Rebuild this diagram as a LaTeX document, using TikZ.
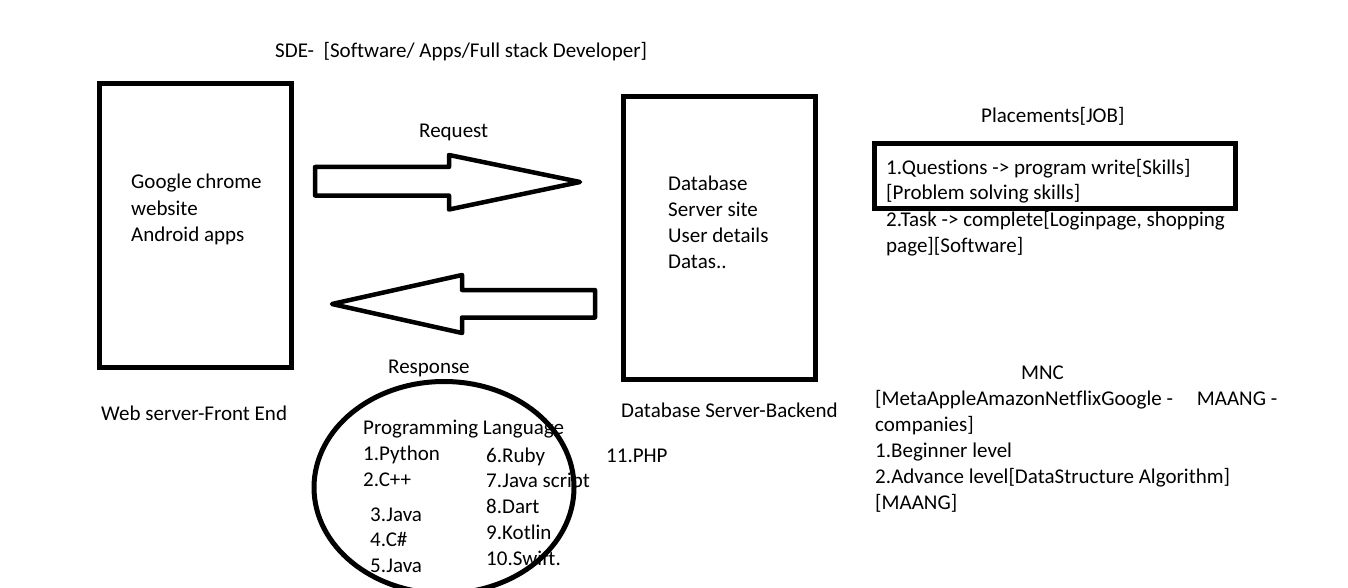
\documentclass[tikz,border=0pt]{standalone}
\usepackage{fontspec}
\setmainfont[Ligatures=NoCommon]{Carlito}
\begin{document}
\begin{tikzpicture}[x=1pt,y=-1pt,
  txt/.style={inner sep=0pt,anchor=base west,font=\fontsize{21}{26}\selectfont},
  box/.style={draw,line width=5pt,line join=miter},
  blockarrow/.style={draw,line width=4.5pt,line join=round,fill=white}]
\clip (0,0) rectangle (1348,588);
\fill[white] (0,0) rectangle (1348,588);

% boxes
\draw[box] (99,84) rectangle (291.5,367);
\draw[box] (623.5,97) rectangle (815.5,379.5);
\draw[box] (874,144) rectangle (1235,208.5);
\draw[line width=5pt] (444,487.5) ellipse [x radius=130, y radius=106];

% block arrows
\draw[blockarrow] (315,167) -- (449,167) -- (449,155) -- (580,182) -- (449,209.5) -- (449,195.5) -- (315,195.5) -- cycle;
\draw[blockarrow] (595,290) -- (462,290) -- (462,275) -- (332,304) -- (462,333) -- (462,317.5) -- (595,317.5) -- cycle;

% texts
\node[txt] (sde) at (275,58) {SDE-\ \ [Software/ Apps/Full stack Developer]};
\node[txt] (req) at (419,138) {Request};
\node[txt] (g1) at (131,189) {Google chrome};
\node[txt] (g2) at (131,215) {website};
\node[txt] (g3) at (131,241) {Android apps};
\node[txt] (d1) at (668,190) {Database};
\node[txt] (d2) at (668,216) {Server site};
\node[txt] (d3) at (668,242) {User details};
\node[txt] (d4) at (668,268) {Datas..};
\node[txt] (resp) at (388,373) {Response};
\node[txt] (web) at (101,420) {Web server-Front End};
\node[txt] (dbs) at (621,417) {Database Server-Backend};
\node[txt] (plc) at (981,123) {Placements[JOB]};
\node[txt] (p1) at (886,175) {1.Questions -> program write[Skills]};
\node[txt] (p2) at (886,200) {[Problem solving skills]};
\node[txt] (p3) at (886,226) {2.Task -> complete[Loginpage, shopping};
\node[txt] (p4) at (886,252) {page][Software]};
\node[txt] (mnc) at (1021,379) {MNC};
\node[txt] (m1) at (875,405) {[MetaAppleAmazonNetflixGoogle -\hspace*{24pt}MAANG -};
\node[txt] (m2) at (875,431) {companies]};
\node[txt] (m3) at (875,457) {1.Beginner level};
\node[txt] (m4) at (875,483) {2.Advance level[DataStructure Algorithm]};
\node[txt] (m5) at (875,509) {[MAANG]};
\node[txt] (pl) at (363,434) {Programming Language};
\node[txt] (l1) at (363,460) {1.Python};
\node[txt] (l2) at (363,486) {2.C++};
\node[txt] (l3) at (370,521) {3.Java};
\node[txt] (l4) at (370,546) {4.C\#};
\node[txt] (l5) at (370,572) {5.Java};
\node[txt] (l6) at (486,462) {6.Ruby};
\node[txt] (l7) at (486,487) {7.Java script};
\node[txt] (l8) at (486,513) {8.Dart};
\node[txt] (l9) at (486,539) {9.Kotlin};
\node[txt] (l10) at (486,565) {10.Swift.};
\node[txt] (l11) at (606,462) {11.PHP};
\end{tikzpicture}
\end{document}
